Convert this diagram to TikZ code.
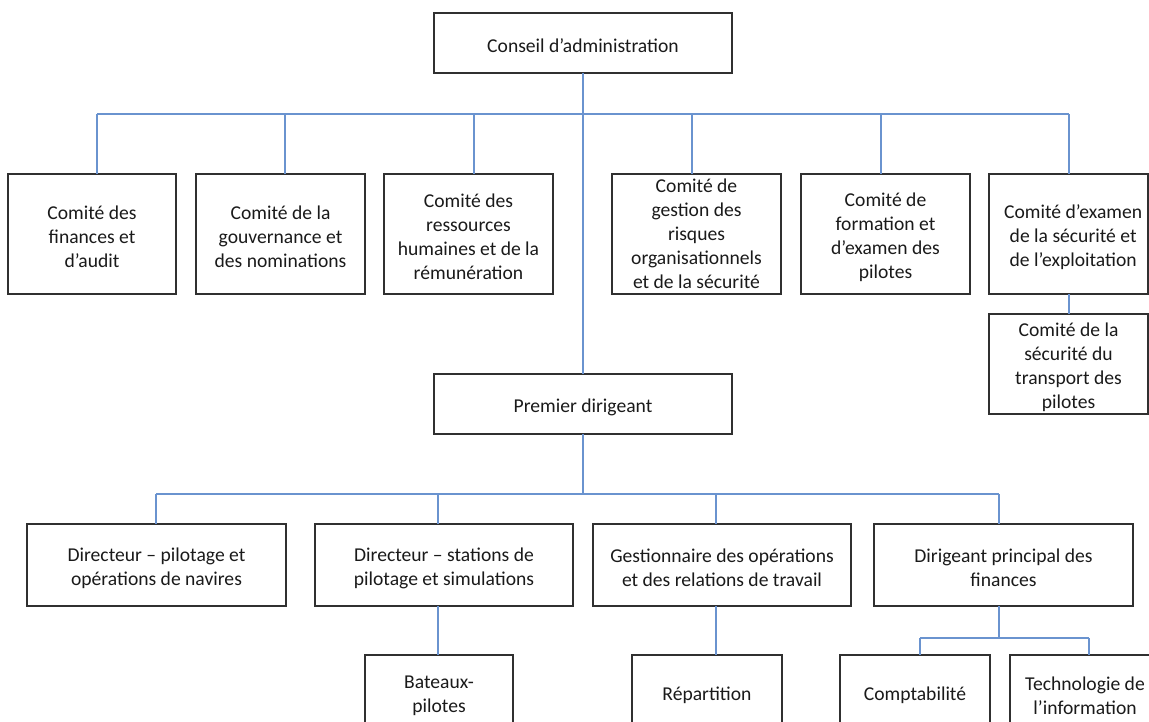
\documentclass[tikz,border=0pt]{standalone}
\usepackage{fontspec}
\setmainfont{Carlito}
\definecolor{linkblue}{HTML}{6A93CF}
\definecolor{boxline}{HTML}{303030}
\definecolor{txt}{HTML}{1A1A1A}
\newcommand{\bxs}[7]{%
  \node[orgbox, minimum width={(#4-#2)*0.75pt}, minimum height={(#5-#3)*0.75pt}]
    (#1) at ({(#2+#4)/2},{(#3+#5)/2}) {};
  \node[boxtext, xshift=#7] (#1t) at (#1.center) {#6};}
\newcommand{\bx}[6]{\bxs{#1}{#2}{#3}{#4}{#5}{#6}{0pt}}
\begin{document}
\begin{tikzpicture}[x=0.75pt,y=-0.75pt,
  orgbox/.style={draw=boxline, line width=0.8pt, fill=white,
    inner sep=0pt, outer sep=0pt},
  boxtext/.style={align=center, text=txt, inner sep=0pt, yshift=-2.2pt,
    font=\fontsize{14.7}{18}\selectfont},
  link/.style={draw=linkblue, line width=1.0pt}]
\useasboundingbox (0,0) rectangle (1149,721);
\clip (0,0) rectangle (1149,721);
% board
\bx{conseil}{434}{13}{732}{73}{Conseil d’administration}
% committees
\bx{c1}{8}{174}{176}{294}{Comité des\\finances et\\d’audit}
\bx{c2}{196}{174}{365}{294}{Comité de la\\gouvernance et\\des nominations}
\bx{c3}{384}{174}{553}{294}{Comité des\\ressources\\humaines et de la\\rémunération}
\node[orgbox, minimum width={169*0.75pt}, minimum height={120*0.75pt}] (c4) at (696.5,234) {};
\node[align=center, text=txt, inner sep=0pt, font=\fontsize{14.7}{18}\selectfont] (c4t) at (c4.center) {Comité de\\gestion des\\risques\\organisationnels\\et de la sécurité};
\bx{c5}{801}{174}{970}{294}{Comité de\\formation et\\d’examen des\\pilotes}
\bxs{c6}{989}{174}{1148}{294}{Comité d’examen\\de la sécurité et\\de l’exploitation}{3.5pt}
\bxs{sub}{989}{314}{1148}{414}{Comité de la\\sécurité du\\transport des\\pilotes}{0pt}
% CEO
\bx{premier}{434}{374}{732}{434}{Premier dirigeant}
% directors
\bx{d1}{27}{524}{286}{606}{Directeur – pilotage et\\opérations de navires}
\bx{d2}{315}{524}{573}{606}{Directeur – stations de\\pilotage et simulations}
\bx{d3}{593}{524}{851}{606}{Gestionnaire des opérations\\et des relations de travail}
\bx{d4}{874}{524}{1133}{606}{Dirigeant principal des\\finances}
% bottom units
\bx{bat}{365}{655}{513}{730}{Bateaux-\\pilotes}
\bx{rep}{632}{655}{782}{730}{Répartition}
\bx{comp}{840}{655}{990}{730}{Comptabilité}
\bx{tech}{1010}{655}{1160}{730}{Technologie de\\l’information}
% connectors
\draw[link] (conseil.south) -- (premier.north);
\draw[link] (97,114) -- (1069,114);
\draw[link] (97,114) -- (c1.north -| 97,0);
\draw[link] (285,114) -- (c2.north -| 285,0);
\draw[link] (474,114) -- (c3.north -| 474,0);
\draw[link] (692,114) -- (c4.north -| 692,0);
\draw[link] (881,114) -- (c5.north -| 881,0);
\draw[link] (1069,114) -- (c6.north -| 1069,0);
\draw[link] (c6.south -| 1069,0) -- (sub.north -| 1069,0);
\draw[link] (premier.south) -- (583,494);
\draw[link] (156,494) -- (999,494);
\draw[link] (156,494) -- (d1.north -| 156,0);
\draw[link] (438,494) -- (d2.north -| 438,0);
\draw[link] (716,494) -- (d3.north -| 716,0);
\draw[link] (999,494) -- (d4.north -| 999,0);
\draw[link] (d2.south -| 438,0) -- (bat.north -| 438,0);
\draw[link] (d3.south -| 716,0) -- (rep.north -| 716,0);
\draw[link] (d4.south -| 999,0) -- (999,638);
\draw[link] (920,638) -- (1089,638);
\draw[link] (920,638) -- (comp.north -| 920,0);
\draw[link] (1089,638) -- (tech.north -| 1089,0);
\end{tikzpicture}
\end{document}
